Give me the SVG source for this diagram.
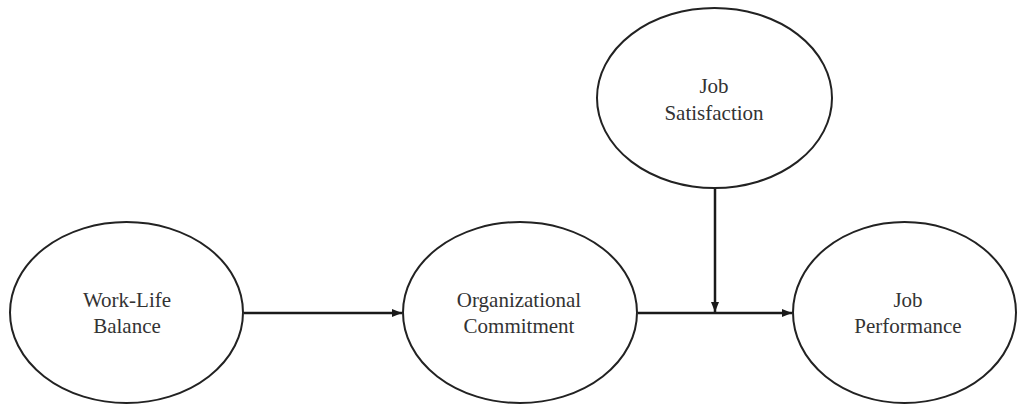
<svg xmlns="http://www.w3.org/2000/svg" width="1017" height="405" viewBox="0 0 1017 405">
<style>
.node{fill:#fff;stroke:#222;stroke-width:2}
.lbl{font-size:21px;fill:#333;text-anchor:middle}
.edge{stroke:#1a1a1a;stroke-width:2.5;fill:none}
</style>
<defs>
<marker id="arr" viewBox="0 0 10 10" refX="10" refY="5" markerWidth="10" markerHeight="10" markerUnits="userSpaceOnUse" orient="auto">
<path d="M0,1 L10,5 L0,9 Z" fill="#1a1a1a"/>
</marker>
</defs>
<rect width="1017" height="405" fill="#fff"/>
<g id="connectors">
<line class="edge" x1="244" y1="313" x2="402" y2="313" marker-end="url(#arr)"/>
<line class="edge" x1="638" y1="313" x2="792" y2="313" marker-end="url(#arr)"/>
<line class="edge" x1="715" y1="188" x2="715" y2="312" marker-end="url(#arr)"/>
</g>
<g font-family="'Liberation Serif', 'DejaVu Serif', serif">
<g id="work-life-balance">
<ellipse class="node" cx="126.5" cy="312.5" rx="116.5" ry="90.5"/>
<text class="lbl" x="127" y="307">Work-Life</text>
<text class="lbl" x="127" y="333">Balance</text>
</g>
<g id="organizational-commitment">
<ellipse class="node" cx="520" cy="312.5" rx="117" ry="90.5"/>
<text class="lbl" x="519" y="307">Organizational</text>
<text class="lbl" x="519" y="333">Commitment</text>
</g>
<g id="job-performance">
<ellipse class="node" cx="904.5" cy="312.5" rx="111.5" ry="90.5"/>
<text class="lbl" x="908" y="307">Job</text>
<text class="lbl" x="908" y="333">Performance</text>
</g>
<g id="job-satisfaction">
<ellipse class="node" cx="714.5" cy="98" rx="117.5" ry="90"/>
<text class="lbl" x="714" y="93">Job</text>
<text class="lbl" x="714" y="120">Satisfaction</text>
</g>
</g>
</svg>
